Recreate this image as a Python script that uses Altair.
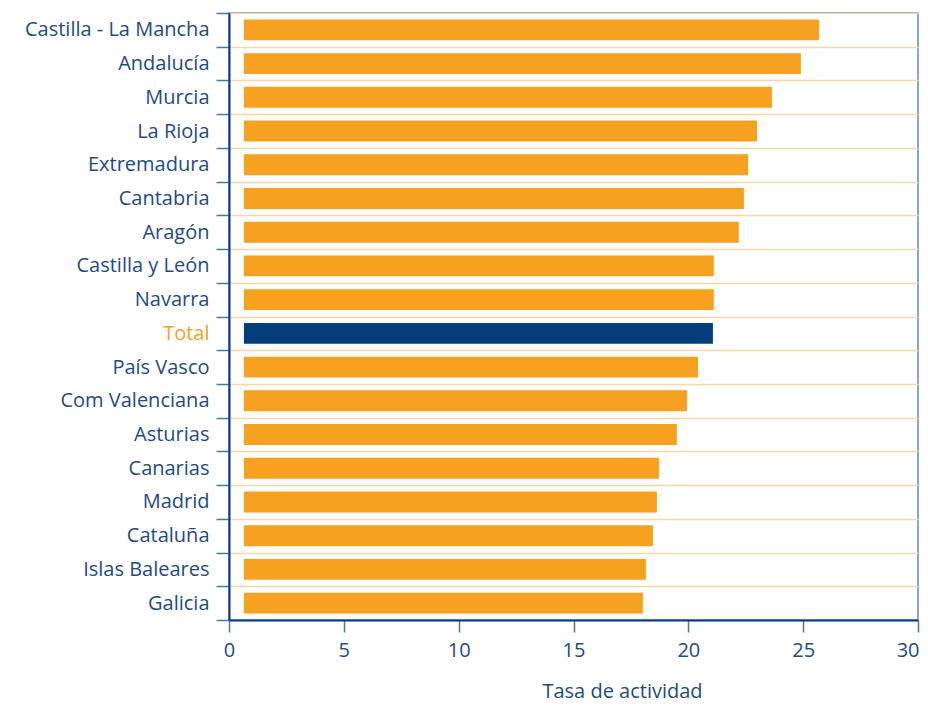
import altair as alt
import pandas as pd

regions = [
    "Castilla - La Mancha", "Andalucía", "Murcia", "La Rioja",
    "Extremadura", "Cantabria", "Aragón", "Castilla y León",
    "Navarra", "Total", "País Vasco", "Com Valenciana",
    "Asturias", "Canarias", "Madrid", "Cataluña",
    "Islas Baleares", "Galicia",
]
values = [25.69, 24.90, 23.64, 22.99, 22.60, 22.42, 22.20, 21.11, 21.11,
          21.07, 20.42, 19.94, 19.50, 18.72, 18.63, 18.46, 18.15, 18.02]
x_ticks = [0, 5, 10, 15, 20, 25, 30]
BAR_BASE = 0.65

ORANGE = "#F6A11F"
NAVY = "#033D7C"
TEXT = "#1E4A88"
FONT = "Open Sans"

df = pd.DataFrame({"region": regions, "value": values})
df["base"] = BAR_BASE

chart = (
    alt.Chart(df)
    .mark_bar(height={"band": 0.62})
    .encode(
        y=alt.Y(
            "region:N",
            sort=regions,
            title=None,
            scale=alt.Scale(paddingInner=0, paddingOuter=0),
            axis=alt.Axis(
                tickBand="extent",
                grid=True,
                gridColor="#FAD7A4",
                gridWidth=1.5,
                tickSize=13,
                labelPadding=7,
                labelFontSize=20,
                labelLimit=300,
                labelColor={
                    "condition": {"test": "datum.value == 'Total'", "value": ORANGE},
                    "value": TEXT,
                },
            ),
        ),
        x=alt.X(
            "base:Q",
            scale=alt.Scale(domain=[0, 30], nice=False, zero=True),
            axis=alt.Axis(
                values=x_ticks,
                grid=False,
                tickSize=12,
                labelPadding=8,
                labelFlush=False,
                labelAlign={
                    "condition": {"test": "datum.value == 30", "value": "right"},
                    "value": "center",
                },
                labelOffset={
                    "condition": {"test": "datum.value == 30", "value": 1},
                    "value": 0,
                },
                labelFontSize=20,
                labelColor=TEXT,
                title="Tasa de actividad",
                titleX=393,
                titleY=77,
                titleAlign="center",
                titleBaseline="alphabetic",
                titleFontSize=20,
                titleFontWeight="normal",
                titleColor=TEXT,
            ),
        ),
        x2="value:Q",
        color=alt.condition(
            "datum.region == 'Total'", alt.value(NAVY), alt.value(ORANGE)
        ),
    )
    .properties(
        width=689,
        height=607,
        autosize=alt.AutoSizeParams(type="none"),
        padding={"left": 221, "top": 5, "right": 2, "bottom": 83},
    )
    .configure_view(stroke="#6389B8", strokeWidth=1.5)
    .configure_axis(
        domainColor="#003A80",
        domainWidth=2,
        tickColor="#4A74AA",
        tickWidth=1.5,
        labelFont=FONT,
        titleFont=FONT,
    )
)

chart.save("out.html", embed_options={"renderer": "svg", "actions": False})
